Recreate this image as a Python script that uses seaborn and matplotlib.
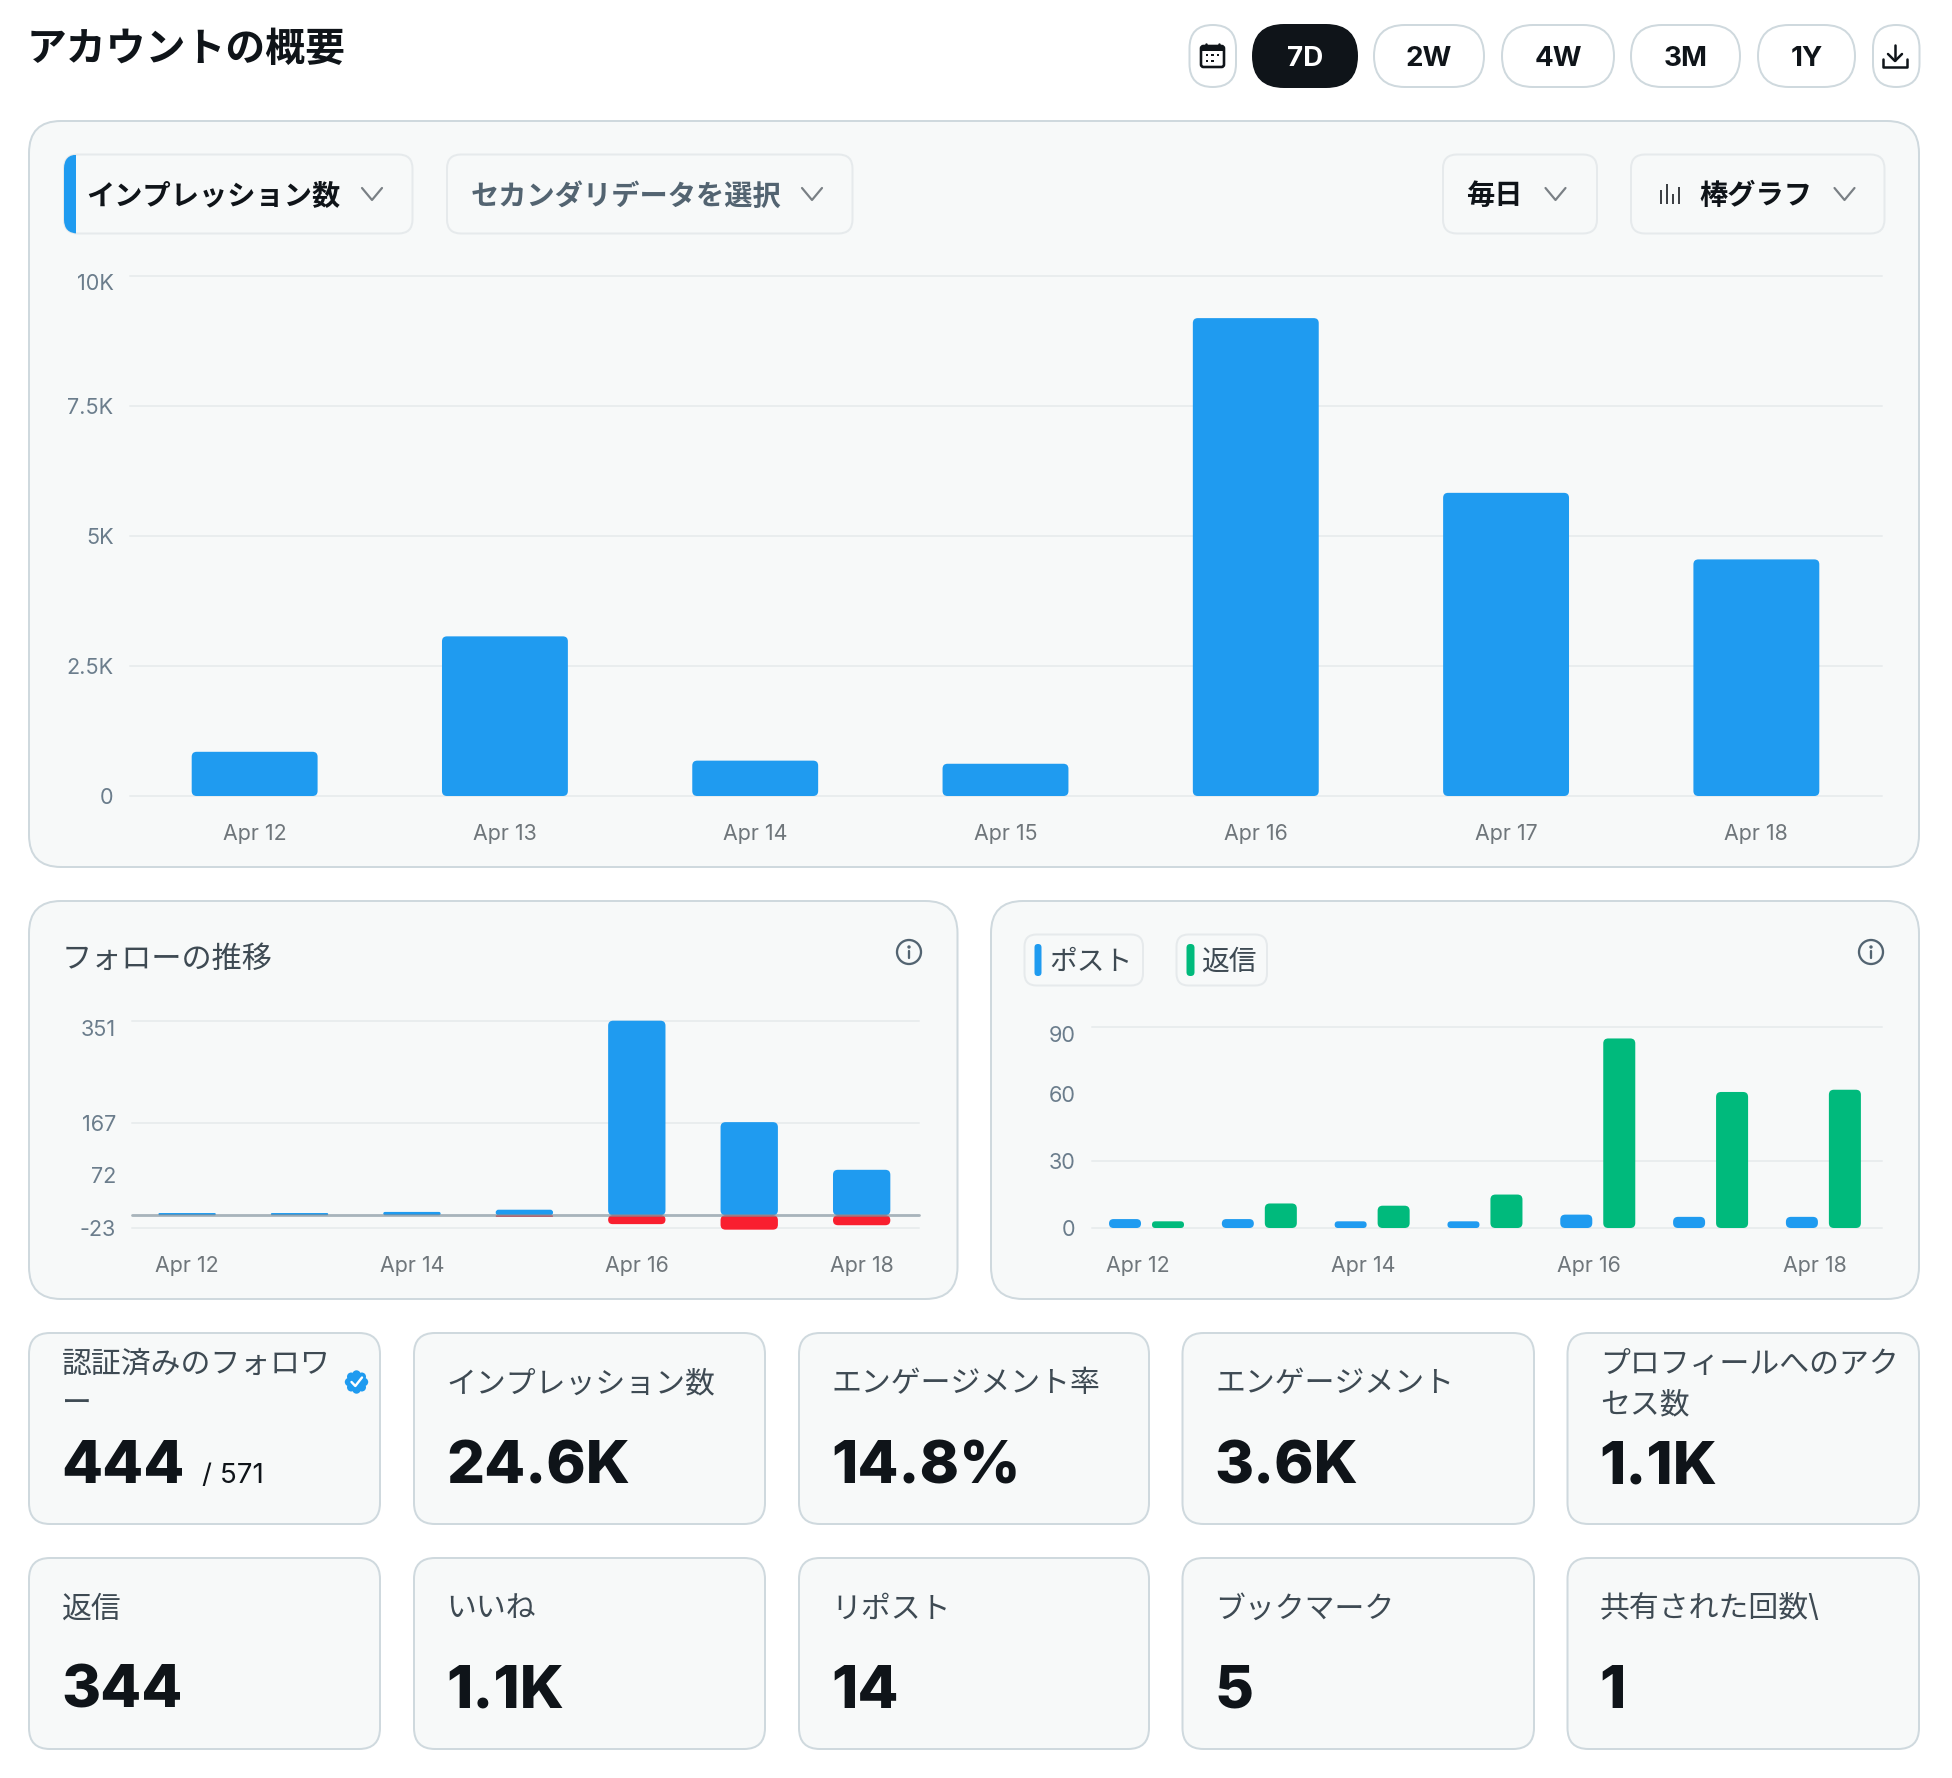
import matplotlib
matplotlib.use("Agg")
from math import cos, pi, sin

import matplotlib.pyplot as plt
import matplotlib.transforms as mtrans
from matplotlib.patches import BoxStyle, Circle, FancyBboxPatch, Rectangle
import pandas as pd
import seaborn as sns

# ---- data ----
dates = ["Apr 12", "Apr 13", "Apr 14", "Apr 15", "Apr 16", "Apr 17", "Apr 18"]
impressions = [850, 3070, 680, 620, 9190, 5830, 4550]
follows_gained = [4, 4, 6, 10, 351, 168, 82]
follows_lost = [0, 0, 0, -3, -16, -26, -18]
posts = [4, 4, 3, 3, 6, 5, 5]
replies = [3, 11, 10, 15, 85, 61, 62]

impression_ticks = [0, 2500, 5000, 7500, 10000]
impression_tick_labels = ["0", "2.5K", "5K", "7.5K", "10K"]
follow_ticks = [-23, 72, 167, 351]
activity_ticks = [0, 30, 60, 90]
sparse_date_labels = ["Apr 12", "Apr 14", "Apr 16", "Apr 18"]

page_title = "アカウントの概要"
range_labels = ["7D", "2W", "4W", "3M", "1Y"]
top_row_labels = ["認証済みのフォロワ\nー", "インプレッション数", "エンゲージメント率",
                  "エンゲージメント", "プロフィールへのアク\nセス数"]
top_row_values = ["444", "24.6K", "14.8%", "3.6K", "1.1K"]
bottom_row_labels = ["返信", "いいね", "リポスト", "ブックマーク", "共有された回数\\"]
bottom_row_values = ["344", "1.1K", "14", "5", "1"]

# ---- palette ----
BLUE = "#1f9bf0"
GREEN = "#00ba7c"
RED = "#f91f2f"
INK = "#0f1419"
SLATE = "#536471"
LABEL = "#3e4a53"
PANEL = "#f7f9f9"
EDGE = "#cfd9de"
SOFT_EDGE = "#e6eaec"
GRID = "#e9edee"
Y_TICK = "#6b7d8c"
X_TICK = "#6f767b"
CHEVRON = "#7a8085"

W, H = 1952, 1778
DPI = 100

sns.set_theme(style="white")
plt.rcParams["font.family"] = ["Inter", "Noto Sans CJK JP", "DejaVu Sans"]
plt.rcParams["axes.unicode_minus"] = False

fig = plt.figure(figsize=(W / DPI, H / DPI), dpi=DPI, facecolor="white")

# Full-page layer addressed in pixels, used for cards, chips, icons and text.
page = fig.add_axes([0, 0, 1, 1], zorder=0)
page.set_xlim(0, W)
page.set_ylim(H, 0)
page.axis("off")


def px(v):
    return v * 72 / DPI


def box(x0, y0, x1, y1, r, fc=PANEL, ec=EDGE, lw=2.0, z=1):
    p = FancyBboxPatch((x0, y0), x1 - x0, y1 - y0,
                       boxstyle=BoxStyle("Round", pad=0, rounding_size=r),
                       fc=fc, ec=ec, lw=px(lw), zorder=z)
    page.add_patch(p)
    return p


def label(x, y, s, size, color=INK, weight="normal", ha="left", va="center"):
    return page.text(x, y, s, fontsize=size, color=color, weight=weight, ha=ha, va=va, zorder=5)


def chevron(cx, cy):
    page.plot([cx - 10, cx, cx + 10], [cy - 6, cy + 6, cy - 6], color=CHEVRON,
              lw=px(2.2), solid_capstyle="round", solid_joinstyle="round", zorder=5)


def info_icon(cx, cy):
    page.add_patch(Circle((cx, cy), 12, fc="none", ec=SLATE, lw=px(2.3), zorder=5))
    page.add_patch(Circle((cx, cy - 5), 1.7, fc=SLATE, ec="none", zorder=5))
    page.plot([cx, cx], [cy - 1, cy + 6], color=SLATE, lw=px(2.3), zorder=5)


def chart_axes(x0, y0, x1, y1):
    ax = fig.add_axes([x0 / W, 1 - y1 / H, (x1 - x0) / W, (y1 - y0) / H], zorder=2)
    ax.patch.set_alpha(0)
    sns.despine(ax=ax, left=True, bottom=True)
    return ax


def round_bars(ax, radius=5.0):
    """Swap the square bars for rounded ones, keeping each bar's data geometry."""
    bbox = ax.get_position()
    xpp = (ax.get_xlim()[1] - ax.get_xlim()[0]) / (bbox.width * W)
    ypp = (ax.get_ylim()[1] - ax.get_ylim()[0]) / (bbox.height * H)
    for rect in list(ax.patches):
        x, y, w, h = rect.get_x(), rect.get_y(), rect.get_width(), rect.get_height()
        fc = rect.get_facecolor()
        rect.remove()
        if h == 0:
            continue
        r = min(radius, abs(h) / ypp / 2, w / xpp / 2)
        ax.add_patch(FancyBboxPatch((x, min(y, y + h)), w, abs(h),
                                    boxstyle=BoxStyle("Round", pad=0, rounding_size=r * xpp),
                                    mutation_aspect=ypp / xpp, fc=fc, ec="none",
                                    zorder=2, clip_on=False))


def style_axis(ax, yticks, ylabels, xticks, xlabels, xpad, hidden_grid=None, raised_top=None):
    ax.set(xlabel="", ylabel="")
    ax.set_yticks(yticks, ylabels)
    ax.set_xticks(xticks, xlabels)
    ax.tick_params(axis="y", length=0, pad=px(16), labelsize=15.6, labelcolor=Y_TICK)
    ax.tick_params(axis="x", length=0, pad=px(xpad), labelsize=15.4, labelcolor=X_TICK)
    ax.set_axisbelow(True)
    ax.grid(False, axis="x")
    ax.grid(True, axis="y", color=GRID, lw=px(2.0))
    lines = ax.yaxis.get_gridlines()
    for line in lines:
        line.set_clip_on(False)
    if hidden_grid is not None:
        lines[hidden_grid].set_visible(False)
    if raised_top is not None:
        # The uppermost label sits a little under its gridline.
        tick_label = ax.get_yticklabels()[-1]
        tick_label.set_transform(tick_label.get_transform()
                                 + mtrans.ScaledTranslation(0, -raised_top / DPI, fig.dpi_scale_trans))


# ---- header ----
label(27, 50, page_title, 28.7, weight="bold")

box(1189.5, 25, 1236, 87, 23.2, fc="white", lw=2.0)
pill_spans = [(1253, 1357), (1374, 1484), (1502, 1614), (1631, 1740), (1758, 1855)]
for i, (name, (a, b)) in enumerate(zip(range_labels, pill_spans)):
    active = i == 0
    box(a, 25, b, 87, 31, fc=INK if active else "white", ec=INK if active else EDGE, lw=2.0)
    label((a + b) / 2, 58.5, name, 20, color="white" if active else INK, weight="bold", ha="center")
box(1873, 25, 1919.5, 87, 23.2, fc="white", lw=2.0)

# calendar glyph
box(1201, 46, 1224, 67, 2.5, fc="none", ec=INK, lw=2.6, z=5)
page.add_patch(Rectangle((1201, 46), 23, 5, fc=INK, ec="none", zorder=5))
page.plot([1206, 1206], [43.5, 47], color=INK, lw=px(2.5), zorder=5)
page.plot([1219, 1219], [43.5, 47], color=INK, lw=px(2.5), zorder=5)
for dx in (1207, 1212.5, 1218):
    page.add_patch(Rectangle((dx - 1.2, 54), 2.4, 2.4, fc=INK, ec="none", zorder=5))
for dx in (1207, 1212.5):
    page.add_patch(Rectangle((dx - 1.2, 59.5), 2.4, 2.4, fc=INK, ec="none", zorder=5))

# download glyph
page.plot([1895, 1895], [45, 60], color=INK, lw=px(2.5), zorder=5)
page.plot([1888, 1895, 1902], [54, 61, 54], color=INK, lw=px(2.5), zorder=5)
page.plot([1883, 1883, 1907, 1907], [59, 67, 67, 59], color=INK, lw=px(2.5),
          solid_joinstyle="round", zorder=5)

# ---- impressions panel ----
box(29, 121, 1919, 867, 32)

drop = box(64, 154.5, 412.5, 233.5, 14, ec=SOFT_EDGE, lw=2)
accent = Rectangle((64, 154.5), 12, 79, fc=BLUE, ec="none", zorder=2)
page.add_patch(accent)
accent.set_clip_path(drop)
label(86, 196.5, "インプレッション数", 20.3, weight="bold")
chevron(372, 194)

box(447, 154.5, 852.5, 233.5, 14, ec=SOFT_EDGE, lw=2)
label(471, 196.5, "セカンダリデータを選択", 20.3, color=SLATE, weight="bold")
chevron(812, 194)

box(1443, 154.5, 1597, 233.5, 14, ec=SOFT_EDGE, lw=2)
label(1466.5, 196.5, "毎日", 20.3, weight="bold")
chevron(1555.5, 194)

box(1631, 154.5, 1884.5, 233.5, 14, ec=SOFT_EDGE, lw=2)
label(1699, 196.5, "棒グラフ", 20.3, weight="bold")
chevron(1844.5, 194)
for bx, top in zip((1661, 1667, 1673, 1679), (190, 184, 194, 187)):
    page.plot([bx, bx], [top, 204], color=INK, lw=px(1.6), solid_capstyle="butt", zorder=5)

ax_imp = chart_axes(129.5, 276, 1881.5, 796)
sns.barplot(x=dates, y=impressions, color=BLUE, saturation=1, width=0.503, ax=ax_imp)
ax_imp.set_xlim(-0.5, 6.5)
ax_imp.set_ylim(0, 10000)
style_axis(ax_imp, impression_ticks, impression_tick_labels, list(range(7)), dates, 28, raised_top=6)
round_bars(ax_imp)

# ---- follower trend panel ----
box(29, 901, 957.5, 1299, 32)
label(62, 960, "フォローの推移", 21.7, color=LABEL)
info_icon(909, 952)

ax_fol = chart_axes(132, 1020.7, 919, 1228)
sns.barplot(x=dates, y=follows_gained, color=BLUE, saturation=1, width=0.51, ax=ax_fol)
sns.barplot(x=dates, y=follows_lost, color=RED, saturation=1, width=0.51, ax=ax_fol)
ax_fol.set_xlim(-0.49, 6.51)
ax_fol.set_ylim(-23, 351)
style_axis(ax_fol, follow_ticks, [str(t) for t in follow_ticks], [0, 2, 4, 6], sparse_date_labels, 28,
           hidden_grid=1, raised_top=7)
round_bars(ax_fol)
ax_fol.axhline(0, color="#7e8f9a", alpha=0.65, lw=px(2.8), zorder=5, clip_on=False)

# ---- posts and replies panel ----
box(991, 901, 1919, 1299, 32)
box(1024.5, 934.5, 1143, 985.5, 12, ec=SOFT_EDGE, lw=2)
box(1176.5, 934.5, 1267, 985.5, 12, ec=SOFT_EDGE, lw=2)
box(1034.5, 944, 1041.5, 976, 3.4, fc=BLUE, ec="none", lw=0, z=3)
box(1186.5, 944, 1194.5, 976, 3.8, fc=GREEN, ec="none", lw=0, z=3)
label(1049, 962.5, "ポスト", 20, color=LABEL)
label(1201.5, 962.5, "返信", 20, color=LABEL)
info_icon(1871, 952)

activity = pd.DataFrame({
    "date": dates * 2,
    "count": posts + replies,
    "kind": ["ポスト"] * 7 + ["返信"] * 7,
})
ax_act = chart_axes(1091.8, 1027.3, 1881.5, 1228)
sns.barplot(data=activity, x="date", y="count", hue="kind", palette=[BLUE, GREEN], saturation=1,
            width=0.762, gap=0.255, legend=False, ax=ax_act)
ax_act.set_xlim(-0.485, 6.515)
ax_act.set_ylim(0, 90)
style_axis(ax_act, activity_ticks, [str(t) for t in activity_ticks],
           [-0.075, 1.925, 3.925, 5.925], sparse_date_labels, 28, hidden_grid=2, raised_top=7)
round_bars(ax_act)

# ---- metric cards ----
card_spans = [(29, 380), (414, 765), (799, 1149), (1182.5, 1534), (1567.5, 1919)]


def metric_card(span, y0, y1, caption, value, baseline, caption_y):
    a, b = span
    box(a, y0, b, y1, 21)
    parts = caption.split("\n")
    if len(parts) == 2:
        label(a + 32.5, y0 + 32, parts[0], 21.5, color=LABEL)
        label(a + 32.5, y0 + 72, parts[1], 21.5, color=LABEL)
    else:
        label(a + 32.5, caption_y, caption, 21.5, color=LABEL)
    label(a + 32, baseline, value, 43, weight=800, va="baseline")


for span, caption, value in zip(card_spans, top_row_labels, top_row_values):
    metric_card(span, 1333, 1524, caption, value, 1483, 1384.5)
for span, caption, value in zip(card_spans, bottom_row_labels, bottom_row_values):
    metric_card(span, 1558, 1749, caption, value, 1708, 1609.5)

label(202, 1483, "/ 571", 20, va="baseline")

# verified badge
for k in range(8):
    page.add_patch(Circle((356.5 + 7.5 * cos(k * pi / 4), 1382 + 7.5 * sin(k * pi / 4)), 4.2,
                          fc=BLUE, ec="none", zorder=5))
page.add_patch(Circle((356.5, 1382), 8, fc=BLUE, ec="none", zorder=5))
page.plot([351.5, 355.3, 362], [1382, 1386, 1377.5], color="white", lw=px(2.4), zorder=6,
          solid_capstyle="round", solid_joinstyle="round")

fig.savefig("out.png", dpi=DPI, facecolor="white")
